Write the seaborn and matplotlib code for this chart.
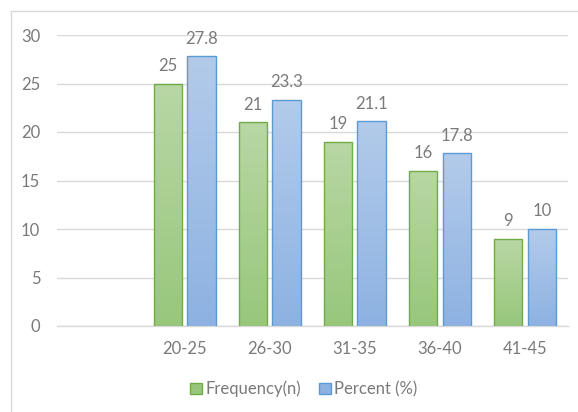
import numpy as np
import pandas as pd
import matplotlib
matplotlib.use('Agg')
import matplotlib.pyplot as plt
import seaborn as sns
from matplotlib.patches import Patch, Rectangle

# data
age_groups = ["20-25", "26-30", "31-35", "36-40", "41-45"]
frequency = [25, 21, 19, 16, 9]
percent = [27.8, 23.3, 21.1, 17.8, 10]
series = ["Frequency(n)", "Percent (%)"]
slots = [""] + age_groups  # first category slot is empty in the original

df = pd.DataFrame({
    "group": age_groups * 2,
    "value": frequency + percent,
    "series": [series[0]] * len(age_groups) + [series[1]] * len(age_groups),
})

GRAY = "#7a7a7a"
GRID = "#d9d9d9"
fills = {series[0]: ("#b8d7a4", "#98c77c"), series[1]: ("#b3cbea", "#8db2e2")}
edges = {series[0]: "#70ad47", series[1]: "#5b9bd5"}

sns.set_style("white")
plt.rcParams['font.family'] = ['Lato', 'DejaVu Sans']

fig = plt.figure(figsize=(5.78, 4.12), dpi=100)
ax = fig.add_axes([57 / 578, (412 - 326) / 412, 510.5 / 578, (326 - 35) / 412])

sns.barplot(data=df, x="group", y="value", hue="series", order=slots, hue_order=series,
            palette=[edges[s] for s in series], width=0.79, gap=0.16, legend=False, ax=ax)

ax.set_yticks(range(0, 31, 5))
ax.yaxis.grid(True, color=GRID, linewidth=1)
ax.set_axisbelow(True)
for side in ["top", "right", "left"]:
    ax.spines[side].set_visible(False)
ax.spines["bottom"].set_color(GRID)
ax.spines["bottom"].set_linewidth(1)
ax.tick_params(axis="both", length=0, labelsize=12, labelcolor=GRAY)
ax.tick_params(axis="y", pad=12)
ax.tick_params(axis="x", pad=11)
ax.set_xlabel("")
ax.set_ylabel("")

# gradient fill + labels
grad = np.linspace(0, 1, 256).reshape(-1, 1)
for container, s in zip(ax.containers, series):
    top, bot = [np.array(matplotlib.colors.to_rgb(c)) for c in fills[s]]
    img = top[None, None, :] * (1 - grad[:, :, None]) + bot[None, None, :] * grad[:, :, None]
    for bar in container:
        x0, y0 = bar.get_x(), bar.get_y()
        w, h = bar.get_width(), bar.get_height()
        if np.isnan(h) or h == 0:
            continue
        im = ax.imshow(img, extent=[x0, x0 + w, y0, y0 + h], aspect="auto", origin="upper", zorder=2)
        im.set_clip_path(bar)
        bar.set_facecolor("none")
        bar.set_edgecolor(edges[s])
        bar.set_linewidth(1)
        bar.set_zorder(3)
    ax.bar_label(container, fmt="%g", padding=7, color=GRAY, fontsize=12)

ax.set_xlim(-0.5, len(slots) - 0.5)
ax.set_ylim(0, 30)

handles = [Patch(facecolor=fills[s][1], edgecolor=edges[s], label=s) for s in series]
fig.legend(handles=handles, loc="center", bbox_to_anchor=(304 / 578, (412 - 389) / 412), ncol=2,
           frameon=False, fontsize=12, labelcolor=GRAY, handlelength=0.7, handleheight=0.7,
           handletextpad=0.2, columnspacing=1.1)

# chart border (top and left visible)
fig.patches.append(Rectangle((11 / 578, -0.1), 1.2, (412 - 11) / 412 + 0.1, transform=fig.transFigure,
                             fill=False, edgecolor=GRID, linewidth=1))

fig.savefig("out.png", dpi=100)
